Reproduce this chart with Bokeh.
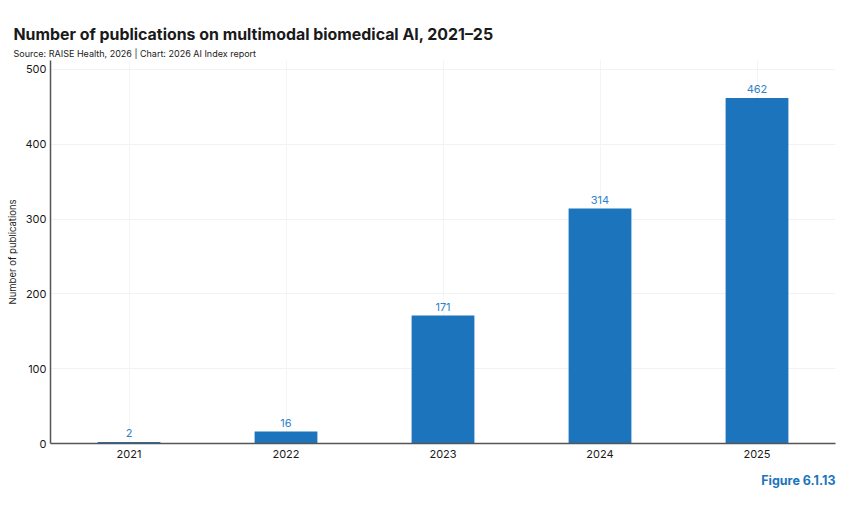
from bokeh.plotting import figure
from bokeh.models import ColumnDataSource, Title, FixedTicker, Range1d, LabelSet
from bokeh.core.properties import value
from bokeh.embed import file_html
from bokeh.resources import INLINE

# Publications per year
years = ["2021", "2022", "2023", "2024", "2025"]
publications = [2, 16, 171, 314, 462]
y_ticks = [0, 100, 200, 300, 400, 500]

FONT = "Inter"
BAR = "#1c75bc"
LABEL = "#2f82c8"
INK = "#1a1a1a"

source = ColumnDataSource(dict(
    year=years,
    count=publications,
    label=[str(v) for v in publications],
))

p = figure(
    x_range=years,
    y_range=Range1d(0, 512),
    width=850, height=505,
    output_backend="svg",
    toolbar_location=None,
    min_border_left=50, min_border_right=15,
    min_border_top=60, min_border_bottom=62,
)
p.outline_line_color = None
p.background_fill_color = "white"
p.border_fill_color = "white"

p.vbar(x="year", top="count", width=0.4, source=source,
       fill_color=BAR, line_color=None)

labels = LabelSet(x="year", y="count", text="label", source=source,
                  text_align="center", text_baseline="bottom", y_offset=5,
                  text_font=value(FONT), text_font_size="11px", text_color=LABEL)
p.add_layout(labels)

# Axes
p.yaxis.ticker = FixedTicker(ticks=y_ticks)
p.yaxis.axis_label = "Number of publications"
p.yaxis.axis_label_text_font = FONT
p.yaxis.axis_label_text_font_size = "9.5px"
p.yaxis.axis_label_text_font_style = "normal"
p.yaxis.axis_label_text_color = INK
p.yaxis.axis_label_standoff = 5
for ax in (p.xaxis[0], p.yaxis[0]):
    ax.major_tick_line_color = None
    ax.minor_tick_line_color = None
    ax.major_tick_in = 0
    ax.major_tick_out = 0
    ax.minor_tick_in = 0
    ax.minor_tick_out = 0
    ax.axis_line_color = "#555555"
    ax.axis_line_width = 1.5
    ax.major_label_text_font = FONT
    ax.major_label_text_font_size = "11px"
    ax.major_label_text_color = INK
p.yaxis.major_label_standoff = 4
p.xaxis.major_label_standoff = 6

p.xgrid.grid_line_color = "#f4f4f4"
p.ygrid.grid_line_color = "#f2f2f2"

# Headings
p.title.text = ""
p.add_layout(Title(text="Source: RAISE Health, 2026 | Chart: 2026 AI Index report",
                   align="left", offset=-37, text_font=FONT,
                   text_font_size="9px", text_font_style="normal",
                   text_color=INK, standoff=4), "above")
p.add_layout(Title(text="Number of publications on multimodal biomedical AI, 2021\u201325",
                   align="left", offset=-37, text_font=FONT,
                   text_font_size="15.9px", text_font_style="bold",
                   text_color=INK, standoff=0), "above")
p.add_layout(Title(text="Figure 6.1.13", align="right", text_font=FONT,
                   text_font_size="12.5px", text_font_style="bold",
                   text_color="#1c75bc", standoff=21), "below")

open("out.html", "w").write(file_html(p, INLINE))
